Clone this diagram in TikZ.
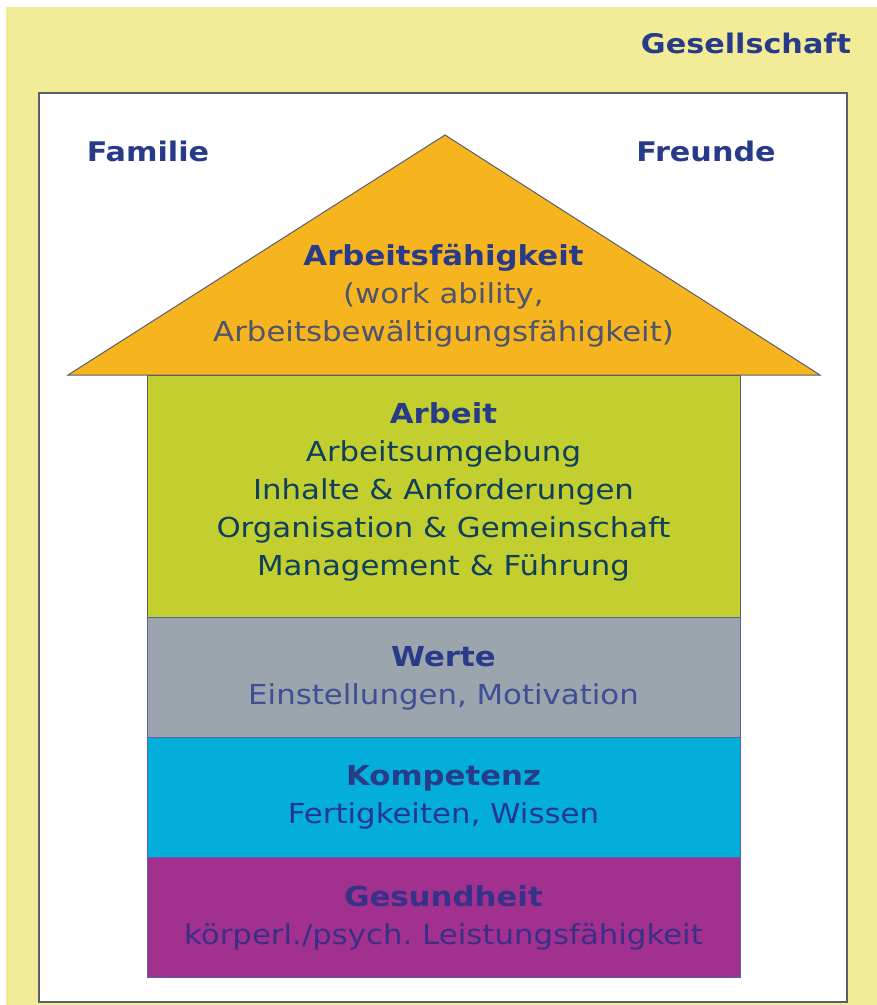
\documentclass[tikz,border=0pt]{standalone}
\usepackage{fontspec}
\setmainfont{DejaVu Sans}[FakeStretch=1.12]
\frenchspacing

\definecolor{bgyellow}{HTML}{F2EB98}
\definecolor{roofcol}{HTML}{F6B41F}
\definecolor{arbeitcol}{HTML}{C3CF2F}
\definecolor{wertecol}{HTML}{9CA5AD}
\definecolor{kompcol}{HTML}{03AEDA}
\definecolor{gesundcol}{HTML}{A2308F}
\definecolor{navy}{HTML}{283B89}
\definecolor{framecol}{HTML}{5A5E6E}

\tikzset{
  headtext/.style={text=navy, font=\bfseries\fontsize{27}{33}\selectfont},
  layertext/.style={align=center, font=\fontsize{27.5}{38}\selectfont},
}

\begin{document}
\begin{tikzpicture}[x=1pt, y=-1pt, line width=1pt]
            \useasboundingbox (0,0) rectangle (877,1005);

            %%%%%%%%
            % background
            %%%%%%%%

            % society area
            \fill[bgyellow] (6,7) rectangle (877,1005);

            % white frame
            \filldraw[fill=white, draw=framecol, line width=1.5pt] (39,93) rectangle (847,1002);

            \node (gesellschaft) [headtext] at (746,43) {Gesellschaft};
            \node (familie) [headtext] at (148,151) {Familie};
            \node (freunde) [headtext] at (706,151) {Freunde};

            %%%%%%%%
            % house
            %%%%%%%%

            % roof
            \filldraw[fill=roofcol, draw=framecol] (445,135) -- (820,375) -- (68,375) -- cycle;
            \node (roof) [layertext, text=navy!45!black!75] at (443.5,296)
              {\textbf{\textcolor{navy}{Arbeitsfähigkeit}}\\(work ability,\\Arbeitsbewältigungsfähigkeit)};

            % floors
            \filldraw[fill=arbeitcol, draw=framecol] (147,375) rectangle (740,617);
            \filldraw[fill=wertecol, draw=navy!80] (147,617) rectangle (740,737);
            \filldraw[fill=kompcol, draw=navy!80] (147,737) rectangle (740,857);
            \filldraw[fill=gesundcol, draw=navy!80] (147,857) rectangle (740,977);

            \node (arbeit) [layertext, text=navy!55!teal!70!black] at (443.5,492)
              {\textbf{\textcolor{navy}{Arbeit}}\\Arbeitsumgebung\\Inhalte \& Anforderungen\\Organisation \& Gemeinschaft\\Management \& Führung};
            \node (werte) [layertext, text=navy!90] at (443.5,678)
              {\textbf{\textcolor{navy}{Werte}}\\Einstellungen, Motivation};
            \node (kompetenz) [layertext, text=navy!90!blue] at (443.5,797)
              {\textbf{\textcolor{navy}{Kompetenz}}\\Fertigkeiten, Wissen};
            \node (gesundheit) [layertext, text=navy!80!violet] at (443.5,918)
              {\textbf{\textcolor{navy!85!violet}{Gesundheit}}\\körperl./psych. Leistungsfähigkeit};
        \end{tikzpicture}
\end{document}
